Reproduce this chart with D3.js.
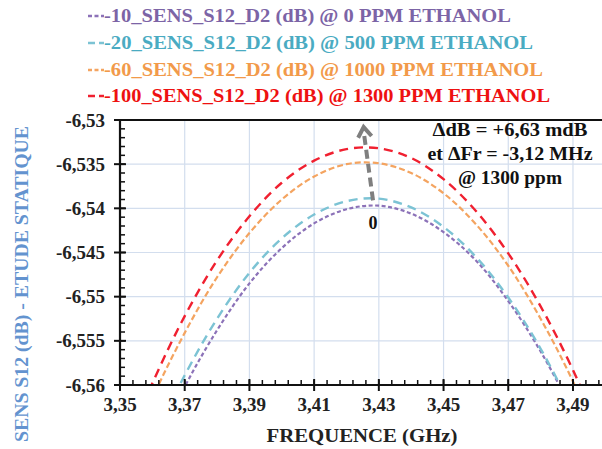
<!DOCTYPE html>
<html><head><meta charset="utf-8">
<script src="https://cdn.jsdelivr.net/npm/d3@7"></script>
<style>body{margin:0;background:#fff}svg{display:block}</style>
</head><body>
<script>
const freqs = [3.35,3.36,3.37,3.38,3.39,3.40,3.41,3.42,3.43,3.44,3.45,3.46,3.47,3.48,3.49,3.50];
const s0ppm    = [-6.5768,-6.5679,-6.5602,-6.5538,-6.5485,-6.5445,-6.5417,-6.5401,-6.5397,-6.5406,-6.5427,-6.5459,-6.5505,-6.5562,-6.5631,-6.5713];
const s500ppm  = [-6.5753,-6.5664,-6.5589,-6.5525,-6.5473,-6.5434,-6.5407,-6.5392,-6.5389,-6.5399,-6.5421,-6.5455,-6.5501,-6.5559,-6.5630,-6.5712];
const s1000ppm = [-6.5702,-6.5615,-6.5541,-6.5478,-6.5428,-6.5390,-6.5364,-6.5350,-6.5349,-6.5360,-6.5383,-6.5418,-6.5465,-6.5525,-6.5596,-6.5680];
const s1300ppm = [-6.5685,-6.5598,-6.5522,-6.5459,-6.5409,-6.5371,-6.5346,-6.5333,-6.5332,-6.5343,-6.5367,-6.5403,-6.5451,-6.5511,-6.5583,-6.5668];
const seriesNames = ["-10_SENS_S12_D2 (dB) @ 0 PPM ETHANOL","-20_SENS_S12_D2 (dB) @ 500 PPM ETHANOL","-60_SENS_S12_D2 (dB) @ 1000 PPM ETHANOL","-100_SENS_S12_D2 (dB) @ 1300 PPM ETHANOL"];
const xTicks = [3.35,3.37,3.39,3.41,3.43,3.45,3.47,3.49];
const yTicks = [-6.53,-6.535,-6.54,-6.545,-6.55,-6.555,-6.56];
const annotationLines = ["\u0394dB = +6,63 mdB","et \u0394Fr = -3,12 MHz","@ 1300 ppm"];
const arrowFrom = [3.4282,-6.5391];
const arrowTo = [3.4253,-6.5308];
const arrowLabel = "0";

const W=602,H=449;
const svg=d3.select("body").append("svg").attr("width",W).attr("height",H);
const L=120,T=120,B=385;
const x=d3.scaleLinear().domain([3.35,3.50]).range([L,L+0.15*3235.5]);
const y=d3.scaleLinear().domain([-6.56,-6.53]).range([B,T]);
const font="'Liberation Serif', 'DejaVu Serif', serif";
const fmt=d=>String(d).replace(".",",");

const styles=[
 {color:"#8c72b8",text:"#7c64a6",w:2.2,dash:"4,2.5"},
 {color:"#7cc3d4",text:"#4aabc2",w:2.4,dash:"9,6"},
 {color:"#f4a460",text:"#f29a4a",w:2.2,dash:"6,3"},
 {color:"#f02030",text:"#ee1111",w:2.4,dash:"9,6"}
];
const data=[s0ppm,s500ppm,s1000ppm,s1300ppm];

// grid
const g=svg.append("g");
g.selectAll(".vg").data(xTicks.slice(1)).join("line")
 .attr("x1",d=>x(d)).attr("x2",d=>x(d)).attr("y1",T).attr("y2",B)
 .attr("stroke","#d3deee").attr("stroke-width",1.2);
g.selectAll(".hg").data(yTicks.slice(1,-1)).join("line")
 .attr("x1",L).attr("x2",W).attr("y1",d=>y(d)).attr("y2",d=>y(d))
 .attr("stroke","#d3deee").attr("stroke-width",1.2);

// clip
svg.append("clipPath").attr("id","clip").append("rect").attr("x",L).attr("y",T).attr("width",W-L).attr("height",B-T);
const line=d3.line().curve(d3.curveCatmullRom.alpha(0.5)).x((d,i)=>x(freqs[i])).y(d=>y(d));
svg.append("g").attr("clip-path","url(#clip)").selectAll("path").data(data).join("path")
 .attr("d",d=>line(d)).attr("fill","none")
 .attr("stroke",(d,i)=>styles[i].color).attr("stroke-width",(d,i)=>styles[i].w)
 .attr("stroke-dasharray",(d,i)=>styles[i].dash);

// axes
const xMinor=d3.range(0,38).map(i=>3.35+i*0.004).filter(v=>v<3.5);
const yMinor=d3.range(0,31).map(i=>-6.56+i*0.001);
const ax=svg.append("g").attr("stroke","#111");
ax.selectAll(".xm").data(xMinor).join("line").attr("x1",d=>x(d)).attr("x2",d=>x(d)).attr("y1",B).attr("y2",B-5).attr("stroke-width",1.5);
ax.selectAll(".xM").data(xTicks).join("line").attr("x1",d=>x(d)).attr("x2",d=>x(d)).attr("y1",B-6).attr("y2",B+6).attr("stroke-width",2);
ax.selectAll(".ym").data(yMinor).join("line").attr("x1",L).attr("x2",L+5).attr("y1",d=>y(d)).attr("y2",d=>y(d)).attr("stroke-width",1.5);
ax.selectAll(".yM").data(yTicks).join("line").attr("x1",L-6).attr("x2",L+6).attr("y1",d=>y(d)).attr("y2",d=>y(d)).attr("stroke-width",2);
ax.append("line").attr("x1",L).attr("x2",W).attr("y1",B).attr("y2",B).attr("stroke-width",2.2);
ax.append("line").attr("x1",L).attr("x2",L).attr("y1",T).attr("y2",B).attr("stroke-width",2.2);
ax.append("line").attr("x1",L).attr("x2",W).attr("y1",T).attr("y2",T).attr("stroke-width",2.2);

svg.selectAll(".xl").data(xTicks).join("text").attr("x",d=>x(d)).attr("y",411)
 .attr("text-anchor","middle").attr("font-family",font).attr("font-weight","bold").attr("font-size",19).attr("fill","#222").text(d=>fmt(d.toFixed(2)));
svg.selectAll(".yl").data(yTicks).join("text").attr("x",105).attr("y",d=>y(d)+6.5)
 .attr("text-anchor","end").attr("font-family",font).attr("font-weight","bold").attr("font-size",19).attr("fill","#222").text(d=>fmt(d));

svg.append("text").attr("x",362).attr("y",442).attr("text-anchor","middle").attr("font-family",font).attr("font-weight","bold").attr("font-size",19)
 .attr("textLength",191).attr("lengthAdjust","spacingAndGlyphs").attr("fill","#222").text("FREQUENCE (GHz)");
svg.append("text").attr("transform","translate(28,284) rotate(-90)").attr("text-anchor","middle").attr("font-family",font).attr("font-weight","bold").attr("font-size",18.5)
 .attr("textLength",316).attr("lengthAdjust","spacingAndGlyphs").attr("fill","#6393cf").text("SENS S12 (dB) - ETUDE STATIQUE");

// legend
const leg=svg.append("g");
const lb=[22,49,76,102];
const lEnd=[511,533,543,550];
seriesNames.forEach((n,i)=>{
  leg.append("line").attr("x1",88).attr("x2",104).attr("y1",lb[i]-6).attr("y2",lb[i]-6)
   .attr("stroke",styles[i].color).attr("stroke-width",2.6).attr("stroke-dasharray",i%2?"7,4":"4,2.5");
  leg.append("text").attr("x",104).attr("y",lb[i]).attr("font-family",font).attr("font-weight","bold").attr("font-size",18.5)
   .attr("textLength",lEnd[i]-104).attr("lengthAdjust","spacingAndGlyphs")
   .attr("fill",styles[i].text).text(n);
});

// annotation
const annW=[155,165,104];
annotationLines.forEach((t,i)=>{
  svg.append("text").attr("x",510).attr("y",136+i*24).attr("text-anchor","middle").attr("font-family",font).attr("font-weight","bold").attr("font-size",19)
   .attr("textLength",annW[i]).attr("lengthAdjust","spacingAndGlyphs").attr("fill","#111").text(t);
});

// arrow
const ax1=x(arrowFrom[0]),ay1=y(arrowFrom[1]),ax2=x(arrowTo[0]),ay2=y(arrowTo[1]);
svg.append("line").attr("x1",ax1).attr("y1",ay1).attr("x2",ax2).attr("y2",ay2+4)
 .attr("stroke","#7f7f7f").attr("stroke-width",4).attr("stroke-dasharray","9,5");
const ang=Math.atan2(ay1-ay2,ax1-ax2);
const hl=12, hw=0.6;
const p1=[ax2+hl*Math.cos(ang+hw),ay2+hl*Math.sin(ang+hw)], p2=[ax2+hl*Math.cos(ang-hw),ay2+hl*Math.sin(ang-hw)];
svg.append("path").attr("d",`M${p1[0]},${p1[1]}L${ax2},${ay2}L${p2[0]},${p2[1]}`).attr("fill","none").attr("stroke","#7f7f7f").attr("stroke-width",4).attr("stroke-linejoin","miter");
svg.append("text").attr("x",x(arrowFrom[0])).attr("y",229).attr("text-anchor","middle").attr("font-family",font).attr("font-weight","bold").attr("font-size",18).attr("fill","#111").text(arrowLabel);
</script>
</body></html>
